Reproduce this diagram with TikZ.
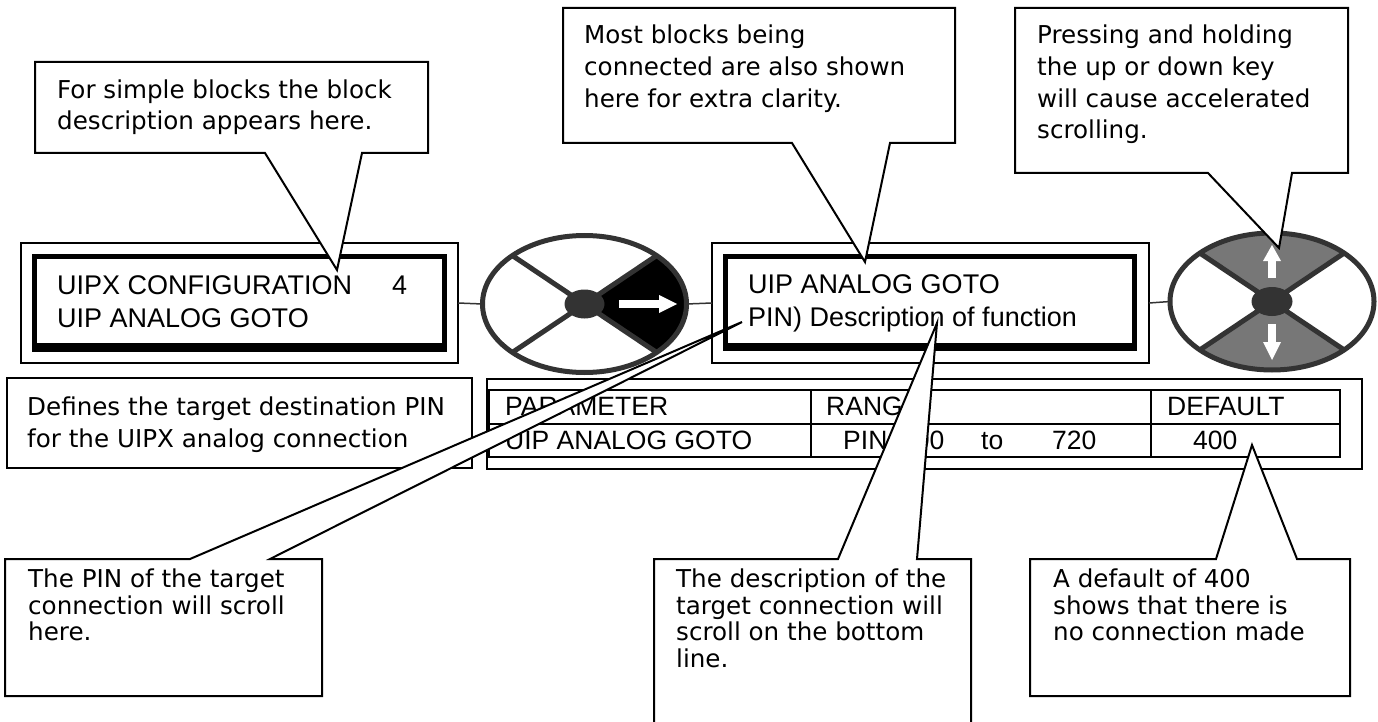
\documentclass[tikz,border=0pt]{standalone}
\usepackage{fontspec}
\setmainfont{Liberation Sans}
\newfontfamily\dvs{DejaVu Sans}
\usetikzlibrary{shapes.geometric}
\definecolor{dk}{HTML}{333333}
\definecolor{gr}{HTML}{777777}
\begin{document}
\begin{tikzpicture}[x=1pt,y=-1pt,
  callout/.style={draw=black, fill=white, line width=2pt, line join=miter},
  thinbox/.style={draw=black, line width=1.5pt, inner sep=0pt, outer sep=0pt},
  thickframe/.style={draw=black, line width=5pt},
  conn/.style={draw=dk, line width=1.5pt},
  spoke/.style={draw=dk, line width=5pt},
  dial/.style={ellipse, draw=dk, line width=5pt, minimum width=204pt, minimum height=137pt, inner sep=0pt, outer sep=0pt},
  ctext/.style={anchor=base west, inner sep=0pt, font=\dvs\fontsize{24.6}{30}\selectfont},
  dtext/.style={anchor=base west, inner sep=0pt, font=\fontsize{27}{32}\selectfont},
  ttext/.style={anchor=base west, inner sep=0pt, font=\fontsize{26.5}{32}\selectfont},
  grid/.style={draw=black, line width=2pt}]
\path[use as bounding box] (0,0) rectangle (1378,722);
\clip (0,0) rectangle (1378,722);

% ---------- displays ----------
\node[thinbox, minimum width=437pt, minimum height=120pt] (d1) at (239.5,303) {};
\draw[thickframe] (34.5,256.5) rectangle (444.5,348.5);
\fill[black] (32,343) rectangle (447,352);
\node[dtext] (d1a) at (57,294) {UIPX CONFIGURATION};
\node[dtext] (d1n) at (392,294) {4};
\node[dtext] (d1b) at (57,327) {UIP ANALOG GOTO};

\node[thinbox, minimum width=437pt, minimum height=120pt] (d2) at (930.5,303) {};
\draw[thickframe] (725.5,256.5) rectangle (1134.5,347.5);
\fill[black] (723,343) rectangle (1137,351);
\node[dtext] (d2a) at (748,293) {UIP ANALOG GOTO};
\node[dtext] (d2b) at (748,326) {PIN) Description of function};

% ---------- dial 1 ----------
\begin{scope}
  \clip (584.5,304) ellipse [x radius=102, y radius=68.5];
  \fill[black] (584.5,304) -- ++(144.2,-96.8) -- ++(0,193.6) -- cycle;
  \draw[spoke] (512.4,255.6) -- (656.6,352.4);
  \draw[spoke] (512.4,352.4) -- (656.6,255.6);
\end{scope}
\node[dial] (e1) at (584.5,304) {};
\fill[dk] (584.5,304) ellipse [x radius=20, y radius=14.5];
\fill[white] (619,300) rectangle (660,308);
\fill[white] (659,295) -- (677,304) -- (659,313) -- cycle;

% ---------- dial 2 ----------
\begin{scope}
  \clip (1272,301.5) ellipse [x radius=102, y radius=68.5];
  \fill[gr] (1272,301.5) -- ++(-144.2,-96.8) -- ++(288.4,0) -- cycle;
  \fill[gr] (1272,301.5) -- ++(-144.2,96.8) -- ++(288.4,0) -- cycle;
  \draw[spoke] (1199.9,253.1) -- (1344.1,349.9);
  \draw[spoke] (1199.9,349.9) -- (1344.1,253.1);
\end{scope}
\node[dial] (e2) at (1272,301.5) {};
\fill[dk] (1272,301.5) ellipse [x radius=20.5, y radius=14.5];
\fill[white] (1268,260) rectangle (1276,278);
\fill[white] (1263,261) -- (1272,245) -- (1281,261) -- cycle;
\fill[white] (1268,324) rectangle (1276,343);
\fill[white] (1263,342) -- (1272,360) -- (1281,342) -- cycle;

% ---------- connectors ----------
\draw[conn] (d1.east) -- (e1.west);
\draw[conn] (e1.east) -- (d2.west);
\draw[conn] (d2.east) -- (e2.west);

% ---------- description box ----------
\node[thinbox, minimum width=465pt, minimum height=90pt] (defbox) at (239.5,423) {};
\node[ctext] (def1) at (27,415) {Defines the target destination PIN};
\node[ctext] (def2) at (27,447) {for the UIPX analog connection};

% ---------- parameter table ----------
\node[thinbox, minimum width=875pt, minimum height=90pt] (tbl) at (924.5,424) {};
\draw[grid] (489,390) rectangle (1340,457);
\draw[grid] (489,424) -- (1340,424);
\draw[grid] (811,390) -- (811,457);
\draw[grid] (1151,390) -- (1151,457);
\node[ttext] (h1) at (505,415) {PARAMETER};
\node[ttext] (h2) at (826,415) {RANGE};
\node[ttext] (h3) at (1167,415) {DEFAULT};
\node[ttext] (r1) at (505,449) {UIP ANALOG GOTO};
\node[ttext] (r2) at (843,449) {PIN};
\node[ttext] (r3) at (900,449) {400};
\node[ttext] (r4) at (981,449) {to};
\node[ttext] (r5) at (1052,449) {720};
\node[ttext] (r6) at (1193,449) {400};

% ---------- callouts ----------
\coordinate (t1) at (337,270);
\draw[callout] (35,62) -- (428,62) -- (428,153) -- (362,153) -- (t1) -- (265,153) -- (35,153) -- cycle;
\node[ctext] (c1a) at (57,99) {For simple blocks the block};
\node[ctext] (c1b) at (57,130) {description appears here.};

\coordinate (t2) at (865,262);
\draw[callout] (563,8) -- (955,8) -- (955,143) -- (890,143) -- (t2) -- (792,143) -- (563,143) -- cycle;
\node[ctext] (c2a) at (584,44) {Most blocks being};
\node[ctext] (c2b) at (584,76) {connected are also shown};
\node[ctext] (c2c) at (584,108) {here for extra clarity.};

\coordinate (t3) at (1279,248);
\draw[callout] (1015,8) -- (1348,8) -- (1348,173) -- (1292,173) -- (t3) -- (1208,173) -- (1015,173) -- cycle;
\node[ctext] (c3a) at (1037,44) {Pressing and holding};
\node[ctext] (c3b) at (1037,76) {the up or down key};
\node[ctext] (c3c) at (1037,108) {will cause accelerated};
\node[ctext] (c3d) at (1037,139) {scrolling.};

\coordinate (t4) at (742,322);
\draw[callout] (5,559) -- (190,559) -- (t4) -- (270,559) -- (322,559) -- (322,696) -- (5,696) -- cycle;
\node[ctext] (c4a) at (28,587) {The PIN of the target};
\node[ctext] (c4b) at (28,614) {connection will scroll};
\node[ctext] (c4c) at (28,640) {here.};

\coordinate (t5) at (937,323);
\draw[callout] (654,559) -- (838,559) -- (t5) -- (917,559) -- (971,559) -- (971,745) -- (654,745) -- cycle;
\node[ctext] (c5a) at (676,587) {The description of the};
\node[ctext] (c5b) at (676,614) {target connection will};
\node[ctext] (c5c) at (676,640) {scroll on the bottom};
\node[ctext] (c5d) at (676,667) {line.};

\coordinate (t6) at (1252,445);
\draw[callout] (1030,559) -- (1216,559) -- (t6) -- (1297,559) -- (1350,559) -- (1350,696) -- (1030,696) -- cycle;
\node[ctext] (c6a) at (1053,587) {A default of 400};
\node[ctext] (c6b) at (1053,614) {shows that there is};
\node[ctext] (c6c) at (1053,640) {no connection made};
\end{tikzpicture}
\end{document}
